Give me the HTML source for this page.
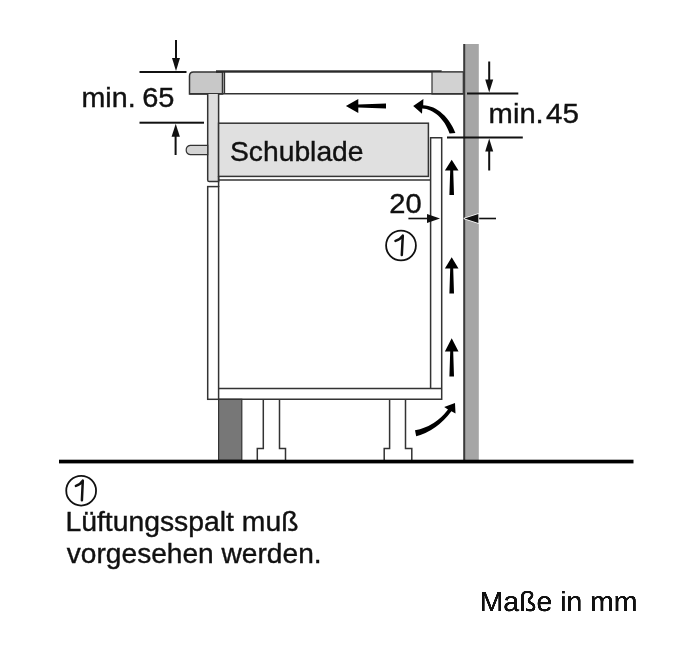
<!DOCTYPE html>
<html><head><meta charset="utf-8">
<style>
html,body{margin:0;padding:0;background:#fff;width:681px;height:660px;overflow:hidden}
svg{display:block;will-change:transform}
text{font-family:"Liberation Sans",sans-serif;fill:#111;stroke:#111;stroke-width:1.4px}
</style></head><body>
<svg width="681" height="660" viewBox="0 0 681 660">
<!-- wall -->
<rect x="463.3" y="44" width="15.5" height="417" fill="#a6a6a6"/>
<rect x="463.3" y="44" width="1.9" height="417" fill="#3a3a3a"/>

<!-- countertop -->
<path d="M189.5 94 V76 Q189.5 72 193.5 72 H222.5 V94 Z" fill="#c8c8c8" stroke="#333" stroke-width="1.5"/>
<line x1="224.4" y1="72" x2="224.4" y2="94" stroke="#333" stroke-width="1.5"/>
<rect x="216" y="70.3" width="225.7" height="2.4" fill="#2a2a2a"/>
<line x1="441.7" y1="72" x2="463.3" y2="72" stroke="#333" stroke-width="1.2"/>
<rect x="432" y="72" width="31.3" height="22" fill="#d2d2d2" stroke="#333" stroke-width="1.2"/>
<line x1="189.5" y1="93.8" x2="463.3" y2="93.8" stroke="#333" stroke-width="1.5"/>

<!-- upper side panel -->
<path d="M207.7 94 V180 Q207.7 181.6 209.3 181.6 H218.6 V94" fill="#dedede" stroke="#333" stroke-width="1.5"/>
<!-- handle -->
<path d="M207.7 145.3 H190.2 A4.7 4.7 0 0 0 190.2 154.6 H207.7 Z" fill="#d4d4d4" stroke="#333" stroke-width="1.2"/>

<!-- drawer -->
<rect x="218.6" y="123.2" width="209.8" height="53.2" fill="#e0e0e0" stroke="#333" stroke-width="1.5"/>
<line x1="218.6" y1="180" x2="430.6" y2="180" stroke="#333" stroke-width="1.5"/>
<line x1="218.6" y1="176" x2="218.6" y2="187" stroke="#333" stroke-width="1.5"/>
<text transform="translate(230,160.7) scale(0.2827,0.27)" font-size="100">Schublade</text>

<!-- plinth -->
<rect x="218.6" y="399.3" width="23.2" height="61" fill="#777" stroke="#333" stroke-width="1.2"/>
<!-- legs -->
<path d="M263.3 399.3 V448.5 H257.3 V461 H285.5 V448.5 H279.5 V399.3" fill="#fff" stroke="#333" stroke-width="1.5"/>
<path d="M389.6 399.3 V448.5 H384.2 V461 H411.8 V448.5 H405.5 V399.3" fill="#fff" stroke="#333" stroke-width="1.5"/>

<!-- lower side panel -->
<rect x="207.7" y="186.6" width="10.9" height="212.7" fill="#fff" stroke="#333" stroke-width="1.5"/>
<!-- right panel + shelf -->
<path d="M430.6 388.5 V137.7 H441.7 V399.3 H218.6" fill="none" stroke="#333" stroke-width="1.5"/>
<line x1="218.6" y1="388.5" x2="441.7" y2="388.5" stroke="#333" stroke-width="1.5"/>

<!-- floor -->
<rect x="59" y="459.7" width="574.5" height="3.7" fill="#000"/>

<!-- dimension min 65 -->
<g fill="#111">
<rect x="139.5" y="71" width="47" height="2"/>
<rect x="139.5" y="121.7" width="64.5" height="2"/>
<rect x="175" y="40" width="2" height="19"/>
<path d="M172 57.9 L180 57.9 L176 71 Z"/>
<rect x="174.6" y="135" width="2" height="20"/>
<path d="M171.6 136.7 L179.9 136.7 L175.7 123.7 Z"/>
</g>
<text transform="translate(81.5,107) scale(0.2866,0.28)" font-size="100">min.</text>
<text transform="translate(142.15,107) scale(0.29,0.28)" font-size="100">65</text>

<!-- dimension min 45 -->
<g fill="#111">
<rect x="467" y="92.5" width="51.3" height="2"/>
<rect x="447" y="136.5" width="75.8" height="2"/>
<rect x="488.2" y="61.5" width="2" height="19"/>
<path d="M485.2 79.5 L493.2 79.5 L489.2 92.5 Z"/>
<rect x="488.2" y="150" width="2" height="20.5"/>
<path d="M485.2 151.5 L493.2 151.5 L489.2 138.5 Z"/>
</g>
<text transform="translate(488.6,122.9) scale(0.2919,0.275)" font-size="100">min.</text>
<text transform="translate(546.1,122.9) scale(0.296,0.275)" font-size="100">45</text>

<!-- dimension 20 -->
<g fill="#111">
<rect x="408.4" y="217.7" width="20" height="1.6"/>
<path d="M427 214 L440 218.5 L427 223 Z"/>
<rect x="476" y="217.7" width="20" height="1.6"/>
<path d="M478.4 214 L464.4 218.5 L478.4 223 Z" stroke="#fff" stroke-width="1.6" stroke-linejoin="round" paint-order="stroke"/>
</g>
<text transform="translate(389.35,212.6) scale(0.291,0.272)" font-size="100">20</text>

<!-- circled 1 -->
<circle cx="401" cy="245.5" r="14.9" fill="none" stroke="#111" stroke-width="1.8"/>
<path d="M395.5 240.9 Q400.5 239.2 402.8 235.6 L401.8 255" fill="none" stroke="#111" stroke-width="2.5" stroke-linecap="round" stroke-linejoin="round"/>

<!-- arrows -->
<g fill="#000">
<path d="M345.9 106.1 L358.3 98.9 L358.3 104.6 L386 103.6 L386 108.6 L358.3 107.6 L358.3 112.9 Z"/>
<path d="M451.7 159.8 L458.5 170.6 L453.2 170.6 L454 195 L449.4 195 L450.2 170.6 L444.9 170.6 Z"/>
<path d="M451.7 257.2 L458.5 268.6 L453.2 268.6 L454 293.6 L449.4 293.6 L450.2 268.6 L444.9 268.6 Z"/>
<path d="M451.7 338.2 L458.5 351.4 L453.2 351.4 L454 376.4 L449.4 376.4 L450.2 351.4 L444.9 351.4 Z"/>
<!-- curved arrow top -->
<path d="M413.2 105.9 L423.4 98.9 L423.2 105.2 C437 105.5 450 118 455.4 133 L449.6 133.4 C444.7 118.5 433 108.8 422.3 108.4 L422 113.7 Z"/>
<!-- curved arrow bottom -->
<path d="M455 403 L455.5 413.4 L451.4 411.3 Q436.8 430.8 416.2 436.3 L415.0 430.2 Q435.2 426.4 448 409.4 L444.2 407 Z"/>
</g>

<!-- legend -->
<circle cx="81.15" cy="490.7" r="14.9" fill="none" stroke="#111" stroke-width="1.8"/>
<path d="M75.9 485.9 Q80.7 484.2 82.8 480.6 L81.9 500.3" fill="none" stroke="#111" stroke-width="2.5" stroke-linecap="round" stroke-linejoin="round"/>
<text transform="translate(65.4,530.9) scale(0.2834,0.278)" font-size="100">Lüftungsspalt muß</text>
<text transform="translate(66.8,562.8) scale(0.2813,0.278)" font-size="100">vorgesehen werden.</text>
<text transform="translate(479.7,611) scale(0.2839,0.275)" font-size="100">Maße in mm</text>
</svg>
</body></html>
